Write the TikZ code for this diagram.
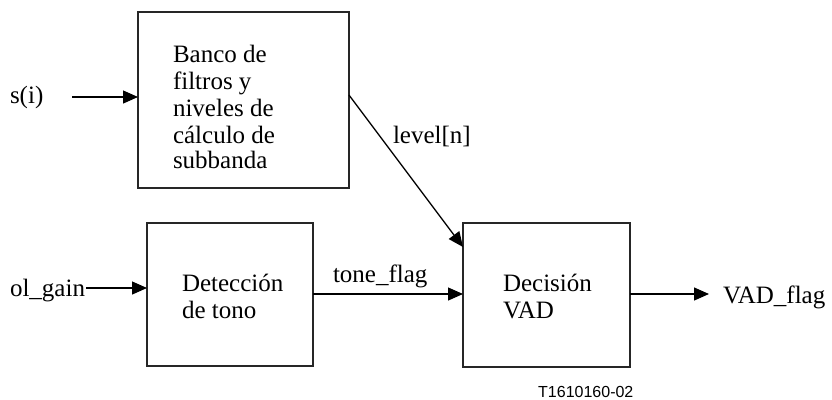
\documentclass[tikz,border=0pt]{standalone}
\usepackage{fontspec}
\setmainfont{Liberation Serif}
\newfontfamily\codefont{Liberation Sans}
\usetikzlibrary{arrows.meta}
\tikzset{
  px/.style={x=1bp,y=-1bp},
  blockbox/.style={draw=black!85,line width=1.3bp,inner sep=0pt,outer sep=0pt,rectangle},
  lbl/.style={inner sep=0pt,outer sep=0pt,anchor=base west,font=\fontsize{25bp}{27bp}\selectfont},
  arr/.style={line width=1.3bp,-{Triangle[length=15bp,width=13bp]}},
}
\begin{document}
\begin{tikzpicture}[px]
\useasboundingbox (0,0) rectangle (832,399);
% boxes
\node[blockbox,minimum width=211bp,minimum height=176bp] (b1) at (243.5,100) {};
\node[blockbox,minimum width=166bp,minimum height=143bp] (b2) at (230,294.5) {};
\node[blockbox,minimum width=167bp,minimum height=144bp] (b3) at (546.5,295) {};
% box texts
\node[lbl] (t11) at (173,62) {Banco de};
\node[lbl] (t12) at (173,89) {filtros y};
\node[lbl] (t13) at (173,116) {niveles de};
\node[lbl] (t14) at (173,143) {cálculo de};
\node[lbl] (t15) at (173,168) {subbanda};
\node[lbl] (t21) at (182,291) {Detección};
\node[lbl] (t22) at (182,318) {de tono};
\node[lbl] (t31) at (503,291) {Decisión};
\node[lbl] (t32) at (503,318) {VAD};
% signal labels
\node[lbl] (si) at (10,103) {s(i)};
\node[lbl] (olg) at (10,296) {ol\_gain};
\node[lbl] (lev) at (393,143) {level[n]};
\node[lbl] (tone) at (333,282) {tone\_flag};
\node[lbl] (vad) at (723,303) {VAD\_flag};
\node[inner sep=0pt,anchor=base west,font=\codefont\fontsize{16bp}{18bp}\selectfont] (code) at (538,397) {T1610160-02};
% connectors
\coordinate (sinA) at (72,97);
\draw[arr] (sinA) -- (sinA -| b1.west);
\coordinate (olA) at (86,288);
\draw[arr] (olA) -- (olA -| b2.west);
\coordinate (levA) at (349,95);
\coordinate (levB) at (463,247);
\draw[arr] (levA) -- (levB);
\coordinate (toneA) at (313,294);
\draw[arr] (toneA) -- (toneA -| b3.west);
\coordinate (vadA) at (630,294);
\coordinate (vadB) at (709,294);
\draw[arr] (vadA) -- (vadB);
\end{tikzpicture}
\end{document}
